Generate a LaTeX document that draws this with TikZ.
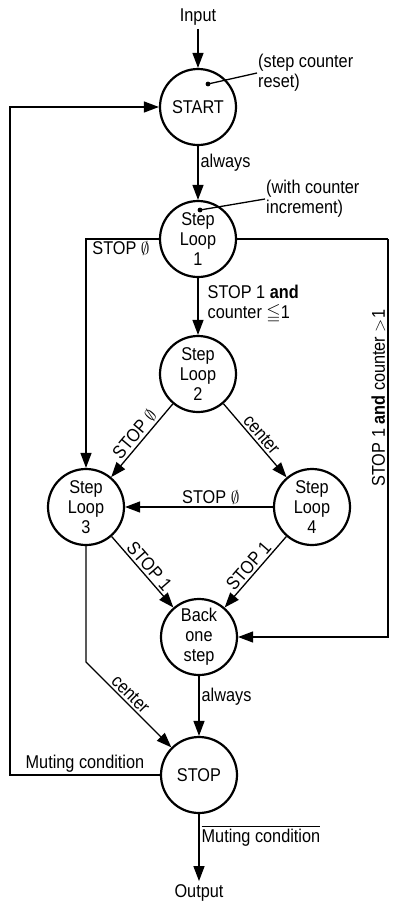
\documentclass[tikz,border=0pt]{standalone}
\usepackage{fontspec}
\usepackage{amssymb}
\setmainfont[FakeStretch=0.88]{Liberation Sans}
\usetikzlibrary{arrows.meta}
\begin{document}
\begin{tikzpicture}[x=1pt,y=1pt,
  font=\fontsize{18.5}{20}\selectfont,
  state/.style={circle,draw,line width=2.2pt,minimum size=76pt,inner sep=0pt,align=center},
  conn/.style={line width=1.3pt},
  arr/.style={conn,-{Triangle[length=15pt,width=11pt]}},
  lbl/.style={inner sep=2pt}
]
\useasboundingbox (0,0) rectangle (398,-911);

% states
\node[state] (start) at (198,-107) {START};
\node[state] (sl1) at (198,-239) {Step\\Loop\\1};
\node[state] (sl2) at (198,-374) {Step\\Loop\\2};
\node[state] (sl3) at (86,-507) {Step\\Loop\\3};
\node[state] (sl4) at (312,-507) {Step\\Loop\\4};
\node[state] (back) at (199,-637) {Back\\one\\step};
\node[state] (stop) at (199,-775) {STOP};

\node (in) at (198,-17) {Input};
\node (out) at (199,-893) {Output};

% notes on the first two states
\coordinate (d1) at (208,-84);
\coordinate (d2) at (200,-210);
\fill (d1) circle (2.4pt);
\fill (d2) circle (2.4pt);
\node[anchor=west,align=left,inner sep=1pt] (n1) at (257,-73) {(step counter\\reset)};
\node[anchor=west,align=left,inner sep=1pt] (n2) at (265,-199) {(with counter\\increment)};
\draw[conn] (d1) -- (n1.west);
\draw[conn] (d2) -- (n2.west);

% main flow
\draw[arr] (in) -- (start);
\draw[arr] (start) -- node[lbl,right,pos=0.3] {always} (sl1);
\draw[arr] (sl1) -- node[lbl,right,pos=0.45,xshift=7pt,align=left] {STOP 1 \textbf{and}\\counter $\leqq$1} (sl2);
\draw[arr] (sl1.west) -| node[lbl,pos=0.26,below] {STOP $\emptyset$} (sl3.north);
\coordinate (rc) at (388,-239);
\draw[conn] (sl1.east) -- (rc);
\draw[arr] (rc) |- node[lbl,pos=0.2,rotate=90,above] {STOP 1 \textbf{and} counter $>$1} (back.east);

\draw[arr] (sl2) -- node[lbl,sloped,above] {STOP $\emptyset$} (sl3);
\draw[arr] (sl2) -- node[lbl,sloped,above] {center} (sl4);
\draw[arr] (sl4) -- node[lbl,above,pos=0.42] {STOP $\emptyset$} (sl3);
\draw[arr] (sl3) -- node[lbl,sloped,above] {STOP 1} (back);
\draw[arr] (sl4) -- node[lbl,sloped,above] {STOP 1} (back);

\coordinate (k) at (86,-662);
\draw[arr] (sl3) -- (k) -- node[lbl,sloped,above,pos=0.45] {center} (stop);
\draw[arr] (back) -- node[lbl,right,pos=0.35] {always} (stop);

% muting feedback and output
\coordinate (fl) at (10,-775);
\draw[arr] (stop.west) -- node[lbl,above] {Muting condition} (fl) |- (start.west);
\draw[arr] (stop) -- node[lbl,right,pos=0.33] {$\overline{\mbox{Muting condition}}$} (out);
\end{tikzpicture}
\end{document}
